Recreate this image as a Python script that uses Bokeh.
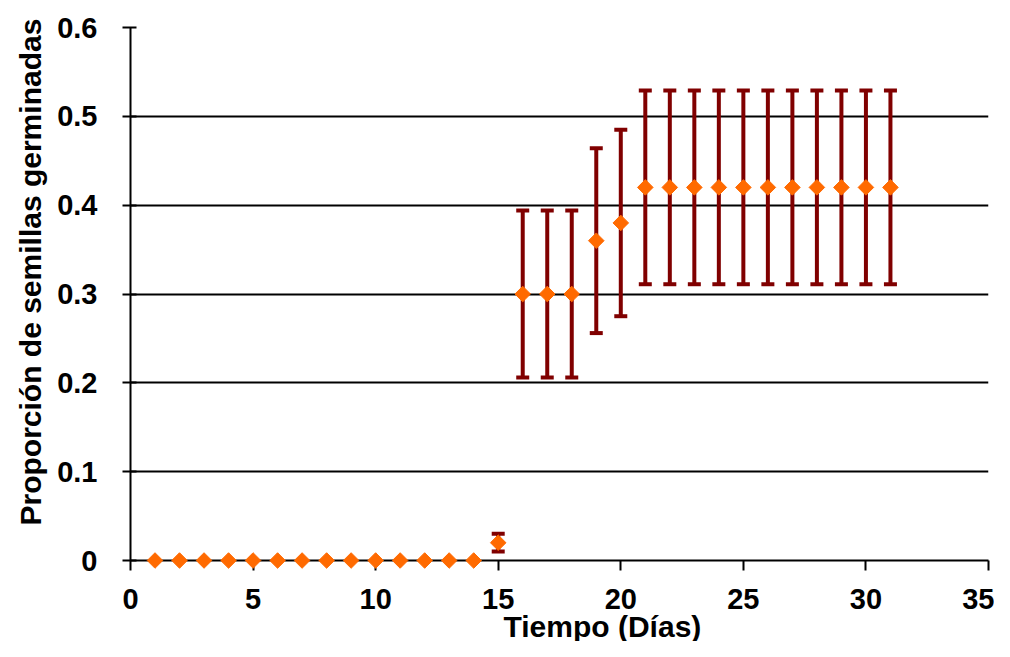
import numpy as np
from bokeh.plotting import figure
from bokeh.models import ColumnDataSource, Whisker, TeeHead, FixedTicker, Range1d, Title
from bokeh.embed import file_html
from bokeh.resources import INLINE

days = [1, 2, 3, 4, 5, 6, 7, 8, 9, 10, 11, 12, 13, 14, 15, 16, 17, 18, 19, 20,
        21, 22, 23, 24, 25, 26, 27, 28, 29, 30, 31]
proportion = [0, 0, 0, 0, 0, 0, 0, 0, 0, 0, 0, 0, 0, 0, 0.02, 0.30, 0.30, 0.30, 0.36, 0.38,
              0.42, 0.42, 0.42, 0.42, 0.42, 0.42, 0.42, 0.42, 0.42, 0.42, 0.42]
error = [0, 0, 0, 0, 0, 0, 0, 0, 0, 0, 0, 0, 0, 0, 0.01, 0.094, 0.094, 0.094, 0.104, 0.105,
         0.109, 0.109, 0.109, 0.109, 0.109, 0.109, 0.109, 0.109, 0.109, 0.109, 0.109]
x_ticks = [0, 5, 10, 15, 20, 25, 30, 35]
y_ticks = [0, 0.1, 0.2, 0.3, 0.4, 0.5, 0.6]
grid_lines = [0.1, 0.2, 0.3, 0.4, 0.5]
x_label = "Tiempo (Días)"
y_label = "Proporción de semillas germinadas"

FONT = "Liberation Sans"

p = figure(width=994, height=641, output_backend="svg", toolbar_location=None,
           x_range=Range1d(0, 35), y_range=Range1d(0, 0.6),
           min_border_left=130, min_border_top=27, min_border_right=6, min_border_bottom=81)
p.outline_line_color = None
p.xgrid.grid_line_color = None
p.ygrid.ticker = FixedTicker(ticks=grid_lines)
p.ygrid.grid_line_color = "black"
p.ygrid.grid_line_width = 2

for ax in (p.xaxis[0], p.yaxis[0]):
    ax.axis_line_color = "black"
    ax.axis_line_width = 2
    ax.major_tick_line_color = "black"
    ax.major_tick_line_width = 2
    ax.minor_tick_line_color = None
    ax.major_label_text_font = FONT
    ax.major_label_text_font_style = "bold"
    ax.major_label_text_font_size = "29px"
    ax.major_label_text_color = "black"

p.xaxis.ticker = FixedTicker(ticks=x_ticks)
p.yaxis.ticker = FixedTicker(ticks=y_ticks)
p.yaxis.major_label_overrides = {0: "0"}
p.xaxis.major_tick_out = 10
p.xaxis.major_tick_in = 0
p.yaxis.major_tick_out = 8
p.yaxis.major_tick_in = 6
p.xaxis.major_label_standoff = 18
p.yaxis.major_label_standoff = 25

p.add_layout(Title(text=x_label, align="left", offset=373, standoff=-8,
                   text_font=FONT, text_font_style="bold", text_font_size="30px",
                   text_color="black"), "below")
p.add_layout(Title(text=y_label, align="left", offset=35, standoff=15,
                   text_font=FONT, text_font_style="bold", text_font_size="30px",
                   text_color="black"), "left")

d = np.array(days)
v = np.array(proportion)
e = np.array(error)
mask = e > 0
err_src = ColumnDataSource(dict(x=d[mask], upper=(v + e)[mask], lower=(v - e)[mask]))
w = Whisker(source=err_src, base="x", upper="upper", lower="lower",
            line_color="#800000", line_width=4,
            upper_head=TeeHead(size=13, line_color="#800000", line_width=4),
            lower_head=TeeHead(size=13, line_color="#800000", line_width=4))
p.add_layout(w)

src = ColumnDataSource(dict(x=days, y=proportion))
r = p.scatter("x", "y", source=src, marker="square", angle=np.pi / 4, size=11,
              fill_color="#FF6A00", line_color="#FF6A00", line_width=1)
r.level = "overlay"

open("out.html", "w").write(file_html(p, INLINE))
